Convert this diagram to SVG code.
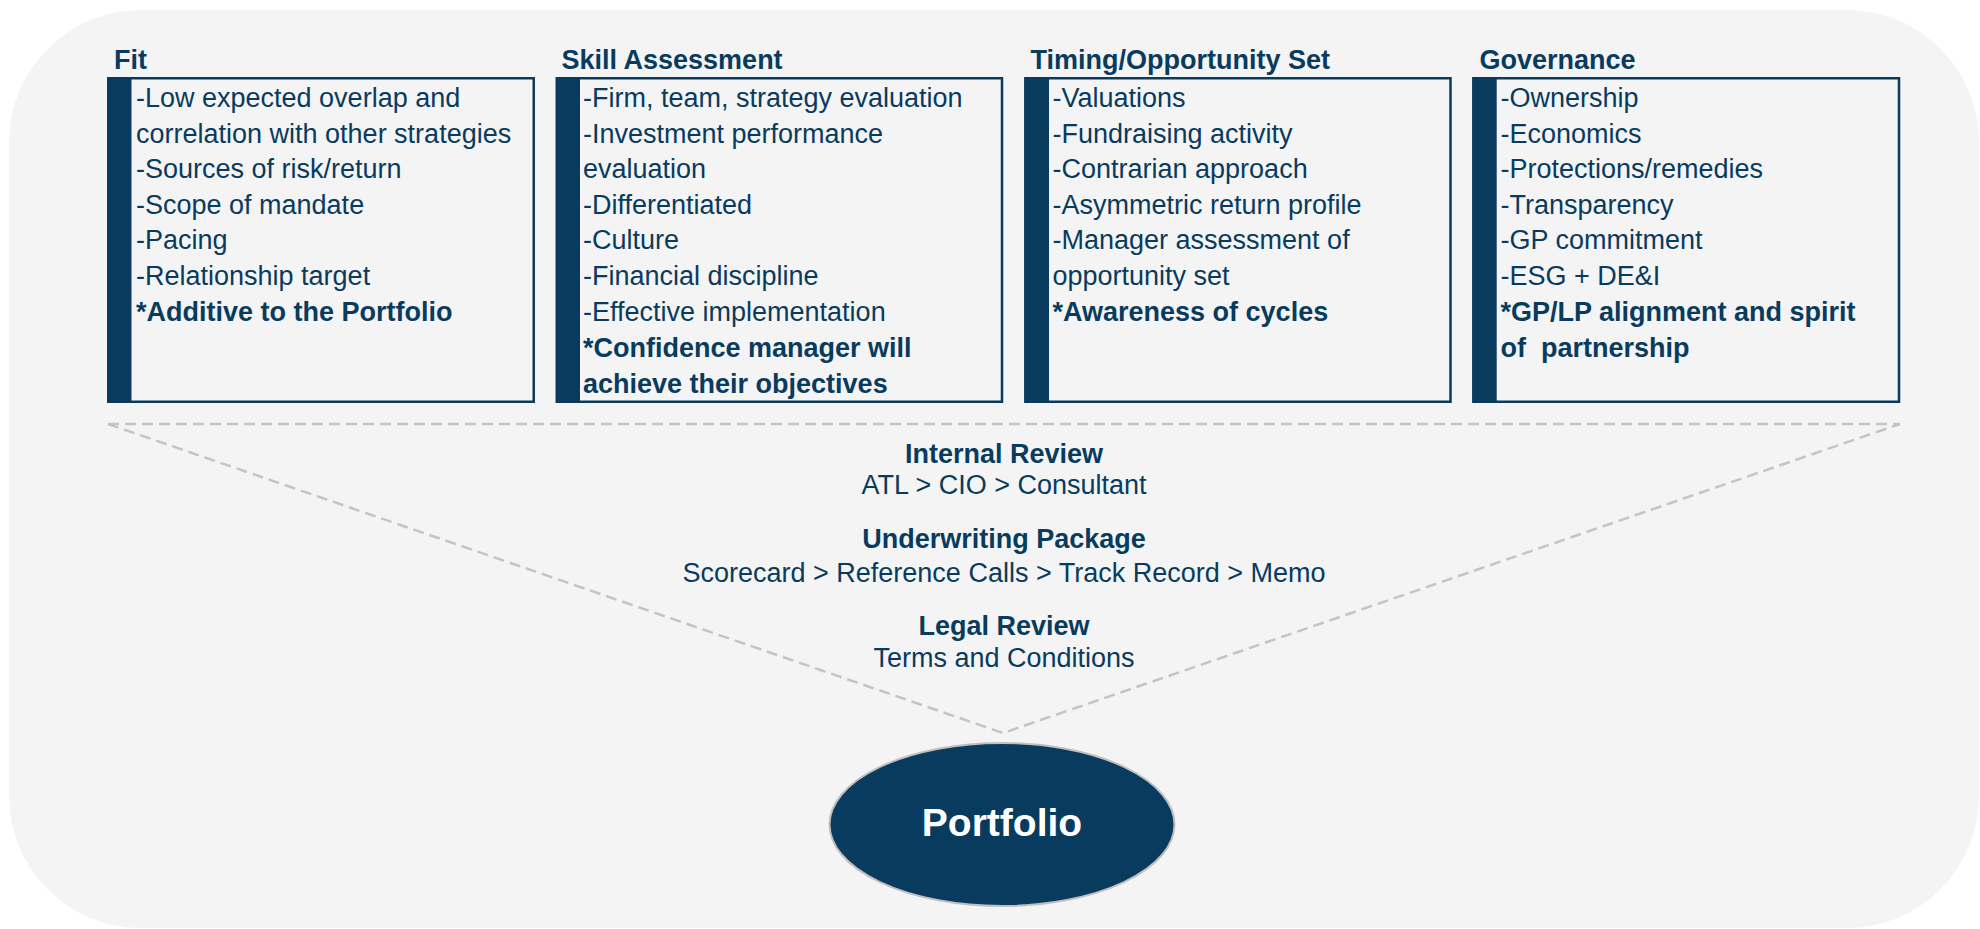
<svg xmlns="http://www.w3.org/2000/svg" width="1980" height="929" viewBox="0 0 1980 929">
<style>
text{font-family:"Liberation Sans",Arial,sans-serif;fill:#083B5E}
.h{font-size:27px;font-weight:bold}
.t{font-size:27px}
.b{font-size:27px;font-weight:bold}
.m{text-anchor:middle}
.box{fill:#F4F4F4;stroke:#083B5E;stroke-width:2.5}
.bar{fill:#083B5E}
.dash{fill:none;stroke:#C4C4C4;stroke-width:2.5;stroke-dasharray:11 6}
</style>
<rect x="9" y="10" width="1970" height="918" rx="132" ry="132" fill="#F4F4F4"/>
<g id="connectors">
<path class="dash" d="M108 424 H1900"/>
<path class="dash" d="M108 424 L1003 733 L1900 424"/>
</g>
<g id="fit">
<text class="h" x="114" y="69">Fit</text>
<rect class="box" x="108.25" y="78.25" width="425.5" height="323.5"/>
<rect class="bar" x="107" y="77" width="24.5" height="326"/>
<text class="t" x="136" y="107">-Low expected overlap and</text>
<text class="t" x="136" y="142.7">correlation with other strategies</text>
<text class="t" x="136" y="178">-Sources of risk/return</text>
<text class="t" x="136" y="213.5">-Scope of mandate</text>
<text class="t" x="136" y="249">-Pacing</text>
<text class="t" x="136" y="285">-Relationship target</text>
<text class="b" x="136" y="320.7">*Additive to the Portfolio</text>
</g>
<g id="skill">
<text class="h" x="561.5" y="69">Skill Assessment</text>
<rect class="box" x="557" y="78.25" width="445" height="323.5"/>
<rect class="bar" x="555.7" y="77" width="24.3" height="326"/>
<text class="t" x="583" y="107">-Firm, team, strategy evaluation</text>
<text class="t" x="583" y="142.7">-Investment performance</text>
<text class="t" x="583" y="178">evaluation</text>
<text class="t" x="583" y="213.5">-Differentiated</text>
<text class="t" x="583" y="249">-Culture</text>
<text class="t" x="583" y="285">-Financial discipline</text>
<text class="t" x="583" y="320.7">-Effective implementation</text>
<text class="b" x="583" y="356.5">*Confidence manager will</text>
<text class="b" x="583" y="392.5">achieve their objectives</text>
</g>
<g id="timing">
<text class="h" x="1030.5" y="69">Timing/Opportunity Set</text>
<rect class="box" x="1025.5" y="78.25" width="425" height="323.5"/>
<rect class="bar" x="1024.3" y="77" width="24.7" height="326"/>
<text class="t" x="1052.5" y="107">-Valuations</text>
<text class="t" x="1052.5" y="142.7">-Fundraising activity</text>
<text class="t" x="1052.5" y="178">-Contrarian approach</text>
<text class="t" x="1052.5" y="213.5">-Asymmetric return profile</text>
<text class="t" x="1052.5" y="249">-Manager assessment of</text>
<text class="t" x="1052.5" y="285">opportunity set</text>
<text class="b" x="1052.5" y="320.7">*Awareness of cycles</text>
</g>
<g id="governance">
<text class="h" x="1479.5" y="69">Governance</text>
<rect class="box" x="1473.5" y="78.25" width="425.5" height="323.5"/>
<rect class="bar" x="1472.3" y="77" width="24.4" height="326"/>
<text class="t" x="1500.5" y="107">-Ownership</text>
<text class="t" x="1500.5" y="142.7">-Economics</text>
<text class="t" x="1500.5" y="178">-Protections/remedies</text>
<text class="t" x="1500.5" y="213.5">-Transparency</text>
<text class="t" x="1500.5" y="249">-GP commitment</text>
<text class="t" x="1500.5" y="285">-ESG + DE&amp;I</text>
<text class="b" x="1500.5" y="320.7">*GP/LP alignment and spirit</text>
<text class="b" x="1500.5" y="356.5">of&#160; partnership</text>
</g>
<g id="process">
<text class="b m" x="1004" y="462.7">Internal Review</text>
<text class="t m" x="1004" y="494">ATL &gt; CIO &gt; Consultant</text>
<text class="b m" x="1004" y="548.3">Underwriting Package</text>
<text class="t m" x="1004" y="581.7">Scorecard &gt; Reference Calls &gt; Track Record &gt; Memo</text>
<text class="b m" x="1004" y="635">Legal Review</text>
<text class="t m" x="1004" y="666.7">Terms and Conditions</text>
</g>
<g id="portfolio">
<ellipse cx="1002" cy="824.5" rx="172.5" ry="81.5" fill="#083B5E" stroke="#BFBFBF" stroke-width="2"/>
<text class="m" x="1002" y="836" style="fill:#FFFFFF;font-size:39px;font-weight:bold">Portfolio</text>
</g>
</svg>
